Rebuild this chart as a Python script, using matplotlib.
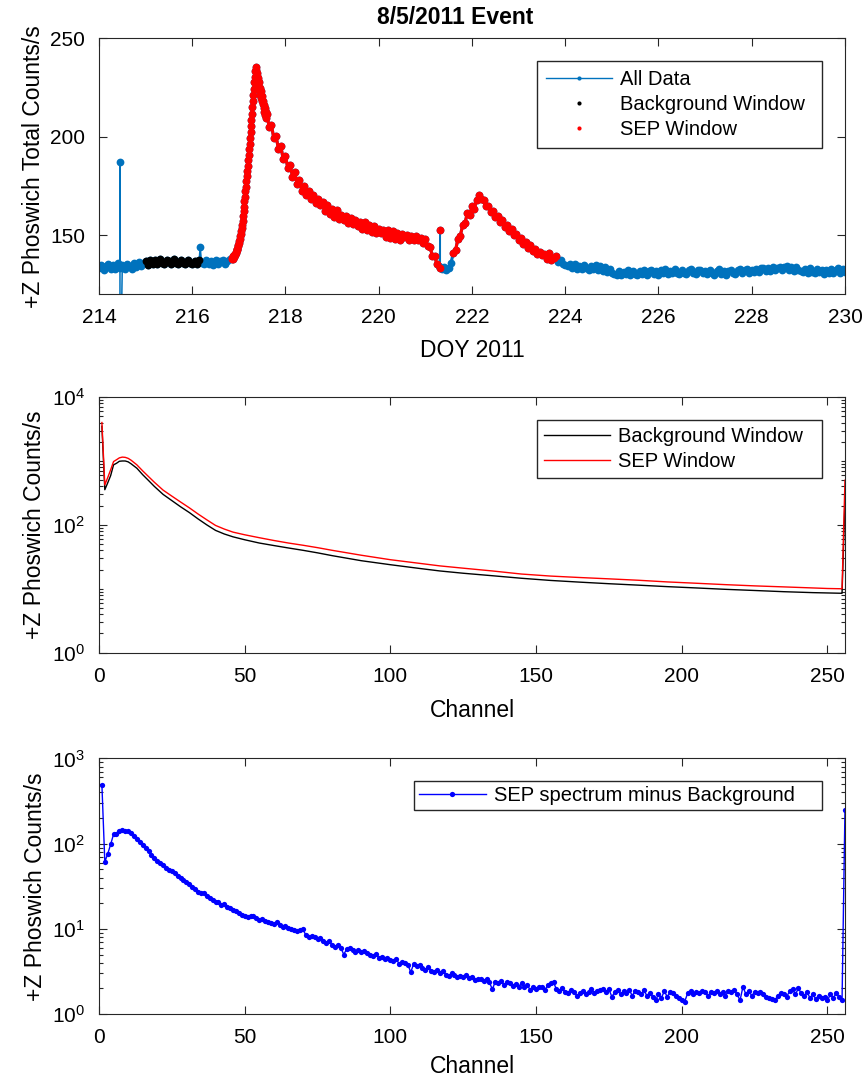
import matplotlib
matplotlib.use("Agg")
import matplotlib.pyplot as plt
import numpy as np
from matplotlib.ticker import LogFormatterMathtext, LogLocator, NullFormatter
from matplotlib.lines import Line2D

plt.rcParams["font.family"] = ["Liberation Sans", "DejaVu Sans"]
plt.rcParams["mathtext.fontset"] = "custom"
plt.rcParams["mathtext.rm"] = "Liberation Sans"
plt.rcParams["mathtext.it"] = "Liberation Sans:italic"
plt.rcParams["mathtext.bf"] = "Liberation Sans:bold"

# total counts, DOY 214.00-216.80 every 0.05 d
counts_a = [
    133.2, 134.9, 132.1, 134.3, 135.5, 132.5, 134.6, 132.6, 135.9, 133.1,
    134.5, 132.8, 135.4, 134.0, 132.7, 135.7, 133.6, 136.5, 134.2, 135.8,
    136.8, 134.9, 137.5, 135.5, 137.2, 135.1, 137.7, 135.8, 135.3, 137.4,
    136.7, 135.2, 137.6, 135.7, 135.0, 137.3, 135.8, 135.4, 137.4, 135.7,
    135.3, 137.0, 135.5, 137.3, 135.9, 135.2, 137.2, 135.5, 136.8, 134.9,
    137.1, 135.4, 136.7, 137.5, 135.5, 136.9, 137.6,
]
# onset and first peak, DOY 216.85-217.59 every 0.01 d
counts_b = [
    137.8, 138.4, 137.9, 139.1, 138.6, 139.8, 140.2, 139.7, 141.0, 141.6,
    142.3, 143.1, 142.8, 144.2, 145.0, 146.1, 146.8, 148.0, 149.3, 150.5,
    152.0, 153.6, 155.1, 157.2, 159.5, 162.0, 164.4, 167.1, 169.5, 172.2,
    174.6, 177.3, 179.8, 182.6, 185.1, 187.9, 190.8, 193.6, 196.5, 199.4,
    202.6, 205.5, 208.7, 211.8, 215.0, 218.2, 221.3, 224.5, 227.6, 230.4,
    233.2, 235.4, 233.8, 231.0, 232.6, 228.4, 230.1, 226.2, 227.9, 223.6,
    225.0, 221.4, 223.2, 219.6, 218.3, 220.5, 216.4, 218.1, 214.6, 216.0,
    212.8, 214.4, 211.0, 212.5, 209.6,
]
# decay, second event and quiet time, DOY 217.60-230.00 every 0.05 d
counts_c = [
    211.5, 205.0, 205.8, 199.1, 200.2, 193.5, 195.3, 188.6, 190.4, 183.9,
    185.5, 179.7, 181.8, 176.1, 178.0, 172.5, 174.8, 170.4, 172.4, 168.3,
    170.5, 166.4, 168.2, 165.3, 166.9, 162.0, 165.1, 160.7, 163.0, 159.3,
    162.8, 158.1, 160.4, 157.5, 159.8, 156.3, 158.4, 155.4, 157.8, 154.5,
    156.7, 153.1, 156.5, 152.3, 155.2, 151.4, 154.6, 150.9, 153.3, 151.1,
    152.7, 149.1, 152.5, 148.3, 151.9, 148.0, 151.2, 147.3, 150.6, 148.9,
    150.0, 147.7, 149.4, 147.3, 149.5, 147.6, 148.6, 145.8, 148.2, 144.4,
    144.0, 139.5, 139.2, 135.0, 134.2, 132.6, 133.5, 132.4, 133.2, 135.8,
    140.8, 142.5, 148.2, 149.6, 155.0, 156.1, 161.0, 160.2, 164.5, 163.2,
    168.0, 170.5, 168.1, 167.8, 164.5, 165.0, 161.9, 162.0, 159.2, 159.6,
    156.5, 157.6, 154.2, 155.3, 152.1, 152.9, 149.8, 150.6, 147.7, 148.5,
    145.6, 146.5, 143.4, 144.9, 141.8, 143.1, 140.2, 141.6, 139.9, 140.5,
    138.0, 140.6, 137.2, 138.5, 139.4, 136.2, 137.4, 135.5, 134.8, 134.2,
    135.0, 133.1, 135.2, 132.8, 134.4, 132.5, 134.7, 133.0, 132.2, 134.2,
    132.6, 134.5, 132.1, 134.0, 131.8, 133.5, 131.4, 132.8, 130.8, 130.2,
    129.8, 131.9, 129.5, 131.4, 130.0, 132.0, 129.7, 131.6, 130.2, 129.4,
    131.7, 130.1, 132.2, 129.8, 131.5, 132.4, 130.3, 131.9, 129.9, 132.2,
    130.6, 132.6, 130.2, 131.8, 130.5, 132.5, 130.9, 130.1, 132.3, 130.7,
    130.4, 132.1, 132.7, 130.6, 130.0, 132.0, 132.4, 130.5, 131.8, 130.2,
    132.2, 130.8, 129.9, 131.9, 132.5, 130.4, 131.8, 129.4, 131.6, 132.3,
    130.9, 130.3, 132.2, 132.6, 130.6, 132.0, 132.8, 130.7, 132.4, 131.1,
    132.7, 131.4, 133.0, 133.4, 131.7, 133.2, 131.5, 133.6, 132.0, 133.3,
    133.8, 132.2, 133.5, 134.4, 132.4, 133.9, 131.8, 133.7, 132.3, 131.6,
    131.3, 132.9, 130.8, 133.2, 131.2, 130.5, 132.7, 131.0, 132.4, 130.4,
    132.3, 130.8, 132.9, 130.6, 132.2, 133.0, 130.9, 132.5, 131.2,
]

# single-sample glitches
spike_doy = [214.45, 214.45, 216.17, 221.32, 221.32]
spike_counts = [187.0, 60.0, 144.0, 152.5, 133.0]
spike_in_sep = [False, False, False, True, True]

bg_window = (215.00, 216.15)
sep_windows = [(216.85, 221.28), (221.57, 223.80)]

# spectra (counts/s per channel)
spec_channel = [1, 2, 3, 4, 5, 6, 7, 8, 9, 10, 11, 13, 15, 17, 19, 22, 25, 28,
                31, 34, 37, 40, 43, 46, 50, 55, 60, 65, 70, 75, 80, 90, 100,
                110, 117, 125, 135, 145, 155, 165, 175, 185, 195, 205, 215,
                225, 235, 245, 250, 255, 256]
bg_spectrum = [3500, 355, 455, 590, 870, 920, 990, 1000, 1000, 970, 905, 770,
               610, 495, 400, 300, 240, 192, 156, 124, 100, 82, 72, 65, 58.5,
               52, 47.5, 43.5, 40, 36.5, 33, 27.5, 23.8, 20.8, 19, 17.5, 16,
               14.6, 13.5, 12.7, 12, 11.4, 10.8, 10.3, 9.8, 9.4, 9.0, 8.7,
               8.6, 8.5, 250]
sep_spectrum = [4000, 423, 550, 727, 980, 1045, 1120, 1150, 1140, 1100, 1030,
                870, 700, 570, 465, 350, 282, 228, 185, 148, 120, 98, 86, 77,
                70, 63, 57, 52, 48, 44, 40, 33.5, 28.5, 25, 22.8, 21, 19, 17,
                15.8, 15, 14.3, 13.6, 12.8, 12.2, 11.6, 11.1, 10.7, 10.3,
                10.1, 10.0, 500]

# SEP minus background, channels 1-256
diff_spectrum = [
    490, 61, 76, 98, 129, 131, 141, 143, 142, 141,
    134, 124, 114, 104, 96, 88, 81, 74, 67, 62,
    59, 56, 52, 49, 48, 45, 42, 40, 37.5, 35.5,
    33.5, 31.0, 29.5, 27.0, 26.5, 26.3, 24.0, 22.8, 22.0, 20.9,
    20.5, 19.2, 19.4, 18.1, 17.6, 16.7, 16.2, 15.3, 14.6, 14.0,
    13.9, 14.2, 14.0, 13.5, 12.6, 12.9, 12.3, 12.0, 11.8, 11.4,
    11.9, 11.0, 10.5, 10.9, 10.3, 10.0, 9.7, 9.5, 9.8, 9.9,
    8.4, 8.1, 8.2, 8.0, 7.6, 7.9, 7.2, 6.9, 7.3, 6.4,
    6.2, 6.5, 6.0, 5.0, 5.8, 5.9, 5.6, 5.4, 5.7, 5.3,
    5.5, 5.2, 5.0, 4.8, 5.1, 4.6, 4.7, 4.4, 4.5, 4.3,
    4.2, 4.4, 3.9, 4.1, 4.0, 3.8, 3.1, 3.9, 3.7, 3.8,
    3.5, 3.3, 3.6, 3.2, 3.1, 3.3, 3.0, 3.2, 2.9, 2.8,
    3.0, 2.9, 2.7, 2.8, 2.7, 2.85, 2.65, 2.75, 2.5, 2.6,
    2.55, 2.45, 2.6, 2.35, 1.95, 2.4, 2.3, 2.45, 2.2, 2.35,
    2.3, 2.15, 2.25, 2.1, 2.3, 2.05, 2.2, 1.9, 2.1, 1.95,
    2.05, 2.1, 1.9, 2.2, 2.3, 2.35, 1.95, 1.85, 2.0, 1.8,
    1.75, 1.9, 1.8, 1.65, 1.75, 1.85, 1.7, 1.8, 1.95, 1.75,
    1.85, 1.9, 1.95, 1.8, 1.95, 1.6, 1.8, 1.9, 1.7, 1.85,
    1.75, 1.9, 1.65, 1.85, 1.8, 1.7, 1.9, 1.65, 1.75, 1.6,
    1.45, 1.7, 1.55, 1.85, 1.6, 1.8, 1.75, 1.65, 1.55, 1.45,
    1.4, 1.75, 1.85, 1.7, 1.8, 1.75, 1.85, 1.8, 1.65, 1.8,
    1.75, 1.85, 1.7, 1.8, 1.65, 1.85, 1.8, 1.9, 1.7, 1.45,
    2.1, 1.7, 1.85, 1.65, 1.8, 1.75, 1.8, 1.7, 1.6, 1.55,
    1.5, 1.45, 1.65, 1.75, 1.7, 1.6, 1.85, 1.95, 1.7, 2.0,
    1.75, 1.65, 1.8, 1.55, 1.7, 1.5, 1.65, 1.55, 1.6, 1.45,
    1.7, 1.55, 1.75, 1.6, 1.45, 248,
]

# assemble the time series
doy = np.concatenate([
    214.00 + 0.05 * np.arange(len(counts_a)),
    216.85 + 0.01 * np.arange(len(counts_b)),
    217.60 + 0.05 * np.arange(len(counts_c)),
])
doy = np.round(np.concatenate([doy, spike_doy]), 2)
counts = np.concatenate([counts_a, counts_b, counts_c, spike_counts])
spike_flag = np.concatenate([np.zeros(len(doy) - len(spike_doy), bool), spike_in_sep])
order = np.argsort(doy, kind="stable")
doy, counts, spike_flag = doy[order], counts[order], spike_flag[order]
is_glitch = np.isin(doy, spike_doy)

in_bg = (doy >= bg_window[0]) & (doy <= bg_window[1])
in_sep_run = np.zeros(len(doy), bool)
for lo, hi in sep_windows:
    in_sep_run |= (doy >= lo) & (doy <= hi)
in_sep_run &= ~spike_flag

channel = np.arange(1, len(diff_spectrum) + 1)

matlab_blue = (0.0, 0.447, 0.741)
axis_grey = (0.15, 0.15, 0.15)

fig = plt.figure(figsize=(8.63, 10.82), dpi=100)
left, width, height = 0.1147, 0.8644, 0.2362
ax1 = fig.add_axes([left, 0.7283, width, height])
ax2 = fig.add_axes([left, 0.3968, width, height])
ax3 = fig.add_axes([left, 0.0628, width, height])

tick_fs = 15
label_fs = 16.5
legend_fs = 14.5
legend_kw = dict(loc="upper left", mode="expand", borderaxespad=0,
                 fontsize=legend_fs, handlelength=3.3, handletextpad=0.4,
                 labelspacing=0.3, fancybox=False, edgecolor=axis_grey,
                 framealpha=1)

# --- time series: full record, then the two windows drawn over it ---
ms = 5.6
ax1.plot(doy, counts, "-", color=matlab_blue, lw=1.1, marker="o", ms=ms, mew=0)
# thicker trace between glitches so the dense record reads as a band
ax1.plot(doy, np.where(is_glitch, np.nan, counts), "-", color=matlab_blue, lw=2.2)
ax1.plot(doy, np.where(in_bg, counts, np.nan), "-", color="k", lw=2.2,
         marker="o", ms=ms, mew=0)
ax1.plot(doy, np.where(in_sep_run, counts, np.nan), "-", color="r", lw=2.2,
         marker="o", ms=ms, mew=0)
ax1.plot(doy[spike_flag], counts[spike_flag], "o", color="r", ms=ms, mew=0)
ax1.set_xlim(214, 230)
ax1.set_ylim(120, 250)
ax1.set_xticks(np.arange(214, 231, 2))
ax1.set_yticks([150, 200, 250])
ax1.set_xlabel("DOY 2011", fontsize=label_fs, labelpad=9)
ax1.set_ylabel("+Z Phoswich Total Counts/s", fontsize=label_fs)
ax1.text(0.478, 1.035, "8/5/2011 Event", transform=ax1.transAxes, ha="center",
         va="bottom", fontsize=label_fs, fontweight="bold")
leg_handles = [
    Line2D([], [], color=matlab_blue, lw=1.0, marker="o", ms=3, mew=0),
    Line2D([], [], color="k", lw=0, marker="o", ms=3, mew=0),
    Line2D([], [], color="r", lw=0, marker="o", ms=3, mew=0),
]
ax1.legend(leg_handles, ["All Data", "Background Window", "SEP Window"],
           bbox_to_anchor=(0.5867, 0.913, 0.3828, 0), borderpad=0.45, **legend_kw)

# --- background and SEP spectra ---
ax2.semilogy(spec_channel, bg_spectrum, color="k", lw=1.0, label="Background Window")
ax2.semilogy(spec_channel, sep_spectrum, color="r", lw=1.0, label="SEP Window")
ax2.set_ylim(1, 1e4)
ax2.set_yticks([1, 1e2, 1e4])
ax2.set_xlabel("Channel", fontsize=label_fs, labelpad=10)
ax2.set_ylabel("+Z Phoswich Counts/s", fontsize=label_fs)
ax2.legend(bbox_to_anchor=(0.5867, 0.911, 0.3828, 0), borderpad=0.35, **legend_kw)

# --- difference spectrum ---
ax3.semilogy(channel, diff_spectrum, color="b", lw=1.0, marker="o", ms=3.8, mew=0,
             label="SEP spectrum minus Background")
ax3.set_ylim(1, 1e3)
ax3.set_yticks([1, 10, 100, 1000])
ax3.set_xlabel("Channel", fontsize=label_fs, labelpad=6)
ax3.set_ylabel("+Z Phoswich Counts/s", fontsize=label_fs)
ax3.legend(bbox_to_anchor=(0.4223, 0.911, 0.5473, 0), borderpad=0.25, **legend_kw)

for ax in (ax2, ax3):
    ax.set_xlim(0, 256)
    ax.set_xticks(np.arange(0, 251, 50))
    ax.yaxis.set_major_formatter(LogFormatterMathtext())
    ax.yaxis.set_minor_locator(LogLocator(base=10, subs=np.arange(1, 10)))
    ax.yaxis.set_minor_formatter(NullFormatter())

for ax in (ax1, ax2, ax3):
    ax.tick_params(which="both", direction="in", top=True, right=True,
                   colors=axis_grey, labelcolor="k", width=0.8,
                   labelsize=tick_fs)
    ax.tick_params(which="major", length=6, pad=10)
    ax.tick_params(which="minor", length=3)
    for s in ax.spines.values():
        s.set_color(axis_grey)
        s.set_linewidth(0.8)
    ax.yaxis.labelpad = 4

fig.savefig("out.png", dpi=100)
